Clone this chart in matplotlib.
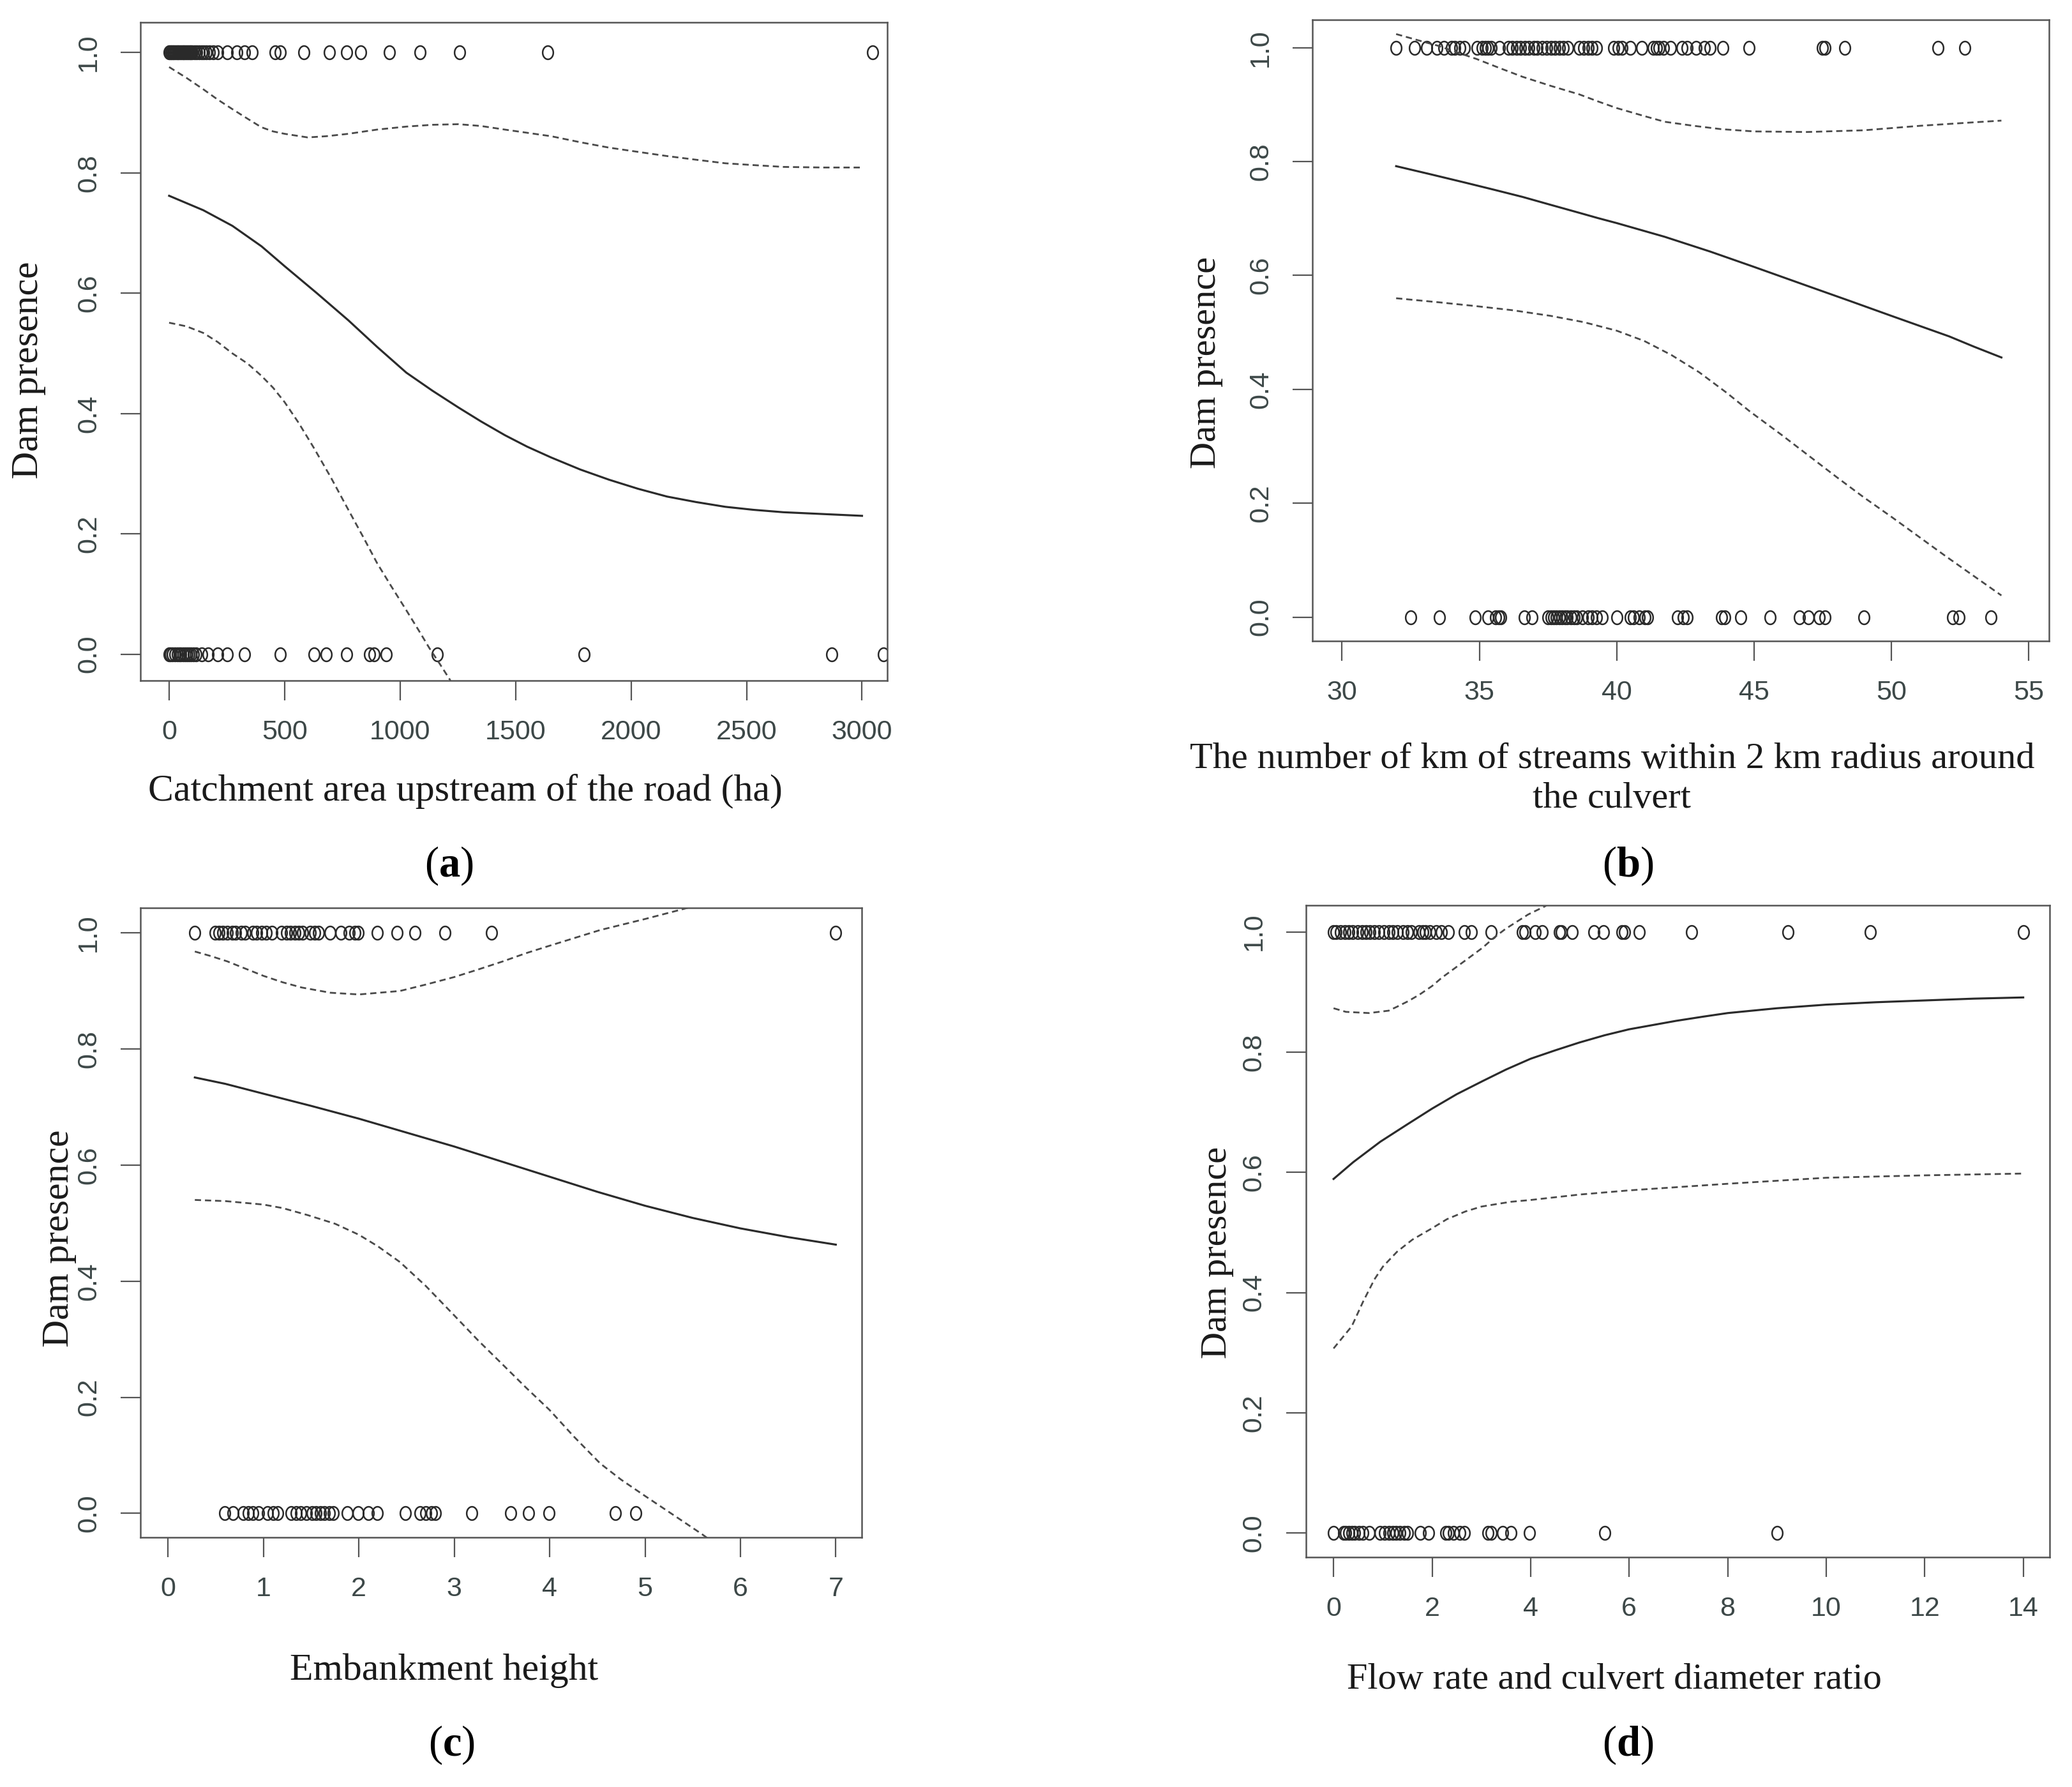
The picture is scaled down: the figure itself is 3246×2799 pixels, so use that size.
import matplotlib
matplotlib.use("Agg")
import matplotlib.pyplot as plt
from matplotlib.path import Path
import numpy as np

# ---- (a) catchment area upstream of the road (ha) ----
a_dam = [0, 4, 8, 12, 16, 20, 25, 30, 35, 40, 45, 50, 55, 60, 65, 70, 75, 80, 85, 90,
         95, 100, 110, 120, 130, 140, 150, 160, 175, 190, 210, 251, 293, 325, 360,
         460, 480, 582, 694, 769, 830, 953, 1087, 1258, 1640, 3045]
a_nodam = [0, 5, 15, 25, 35, 43, 50, 60, 70, 78, 85, 95, 105, 116, 140, 168, 210, 251,
           325, 481, 627, 680, 769, 868, 888, 941, 1160, 1797, 2868, 3092]
a_fit_x = [0, 148, 274, 400, 500, 640, 776, 900, 1027, 1140, 1253, 1350, 1454, 1550, 1654, 1780,
           1905, 2030, 2156, 2280, 2408, 2530, 2659, 2830, 3000]
a_fit_y = [0.762, 0.738, 0.712, 0.678, 0.645, 0.600, 0.555, 0.511, 0.468, 0.438, 0.410, 0.387,
           0.364, 0.345, 0.327, 0.307, 0.290, 0.275, 0.262, 0.253, 0.245, 0.240, 0.236, 0.233, 0.230]
a_up_x = [0, 75, 148, 210, 274, 340, 399, 450, 500, 600, 680, 776, 900, 1027, 1140, 1253,
          1350, 1454, 1654, 1780, 1905, 2030, 2156, 2280, 2408, 2530, 2659, 2830, 3000]
a_up_y = [0.976, 0.958, 0.939, 0.922, 0.906, 0.890, 0.876, 0.869, 0.865, 0.859, 0.861, 0.865,
          0.872, 0.877, 0.880, 0.881, 0.878, 0.872, 0.861, 0.851, 0.842, 0.835, 0.828, 0.822,
          0.816, 0.813, 0.810, 0.809, 0.809]
a_lo_x = [0, 75, 148, 210, 274, 340, 399, 450, 500, 560, 625, 700, 776, 840, 901, 960, 1027,
          1080, 1127, 1170, 1215, 1260]
a_lo_y = [0.551, 0.545, 0.534, 0.519, 0.500, 0.483, 0.463, 0.443, 0.419, 0.385, 0.344, 0.294,
          0.240, 0.195, 0.151, 0.114, 0.073, 0.040, 0.010, -0.015, -0.042, -0.075]

# ---- (b) km of streams within 2 km radius ----
b_dam = [31.97, 32.63, 33.09, 33.46, 33.71, 33.98, 34.1, 34.29, 34.45, 34.91, 35.1, 35.22,
         35.3, 35.43, 35.74, 36.05, 36.2, 36.36, 36.5, 36.67, 36.8, 36.98, 37.1, 37.29,
         37.45, 37.60, 37.75, 37.91, 38.05, 38.22, 38.64, 38.8, 38.95, 39.1, 39.26, 39.88,
         40.05, 40.19, 40.50, 40.92, 41.33, 41.45, 41.54, 41.7, 41.95, 42.37, 42.57, 42.88,
         43.19, 43.40, 43.86, 44.81, 47.48, 47.58, 48.31, 51.69, 52.66]
b_nodam = [32.51, 33.54, 34.85, 35.32, 35.59, 35.7, 35.78, 36.63, 36.92, 37.50, 37.6, 37.71,
           37.8, 37.91, 38.0, 38.12, 38.2, 38.33, 38.45, 38.53, 38.74, 38.95, 39.1, 39.26,
           39.47, 40.00, 40.50, 40.60, 40.81, 41.02, 41.12, 42.22, 42.43, 42.57, 43.81, 43.92,
           44.50, 45.58, 46.65, 46.98, 47.38, 47.58, 48.99, 52.22, 52.45, 53.63]
b_fit_x = [31.97, 33.2, 34.49, 35.5, 36.57, 37.6, 38.64, 39.3, 40.0, 41.74, 43.4, 45.0, 46.92,
           48.5, 50.0, 52.1, 53.0, 54.0]
b_fit_y = [0.792, 0.778, 0.763, 0.751, 0.738, 0.724, 0.710, 0.701, 0.692, 0.668, 0.642, 0.615,
           0.582, 0.555, 0.529, 0.493, 0.475, 0.456]
b_up_x = [31.97, 33.0, 33.46, 34.91, 35.7, 36.57, 37.6, 38.64, 39.3, 40.0, 41.0, 41.74, 42.78,
          43.8, 45.0, 46.92, 48.99, 51.07, 53.0, 54.0]
b_up_y = [1.024, 1.010, 1.004, 0.980, 0.965, 0.949, 0.933, 0.918, 0.906, 0.894, 0.880, 0.870,
          0.863, 0.857, 0.853, 0.852, 0.855, 0.863, 0.869, 0.872]
b_lo_x = [31.97, 33.5, 34.91, 36.2, 37.6, 38.8, 40.0, 41.0, 42.0, 43.0, 44.0, 44.85, 46.0, 47.0,
          48.0, 49.0, 50.0, 51.0, 52.0, 53.0, 54.0]
b_lo_y = [0.560, 0.553, 0.546, 0.539, 0.529, 0.518, 0.503, 0.485, 0.460, 0.430, 0.394, 0.361,
          0.320, 0.283, 0.246, 0.210, 0.176, 0.141, 0.106, 0.072, 0.038]

# ---- (c) embankment height ----
c_dam = [0.28, 0.49, 0.53, 0.57, 0.62, 0.67, 0.71, 0.77, 0.81, 0.89, 0.93, 0.98, 1.03, 1.09,
         1.19, 1.24, 1.28, 1.33, 1.37, 1.41, 1.49, 1.535, 1.58, 1.70, 1.81, 1.90, 1.96, 1.99,
         2.19, 2.40, 2.59, 2.90, 3.39, 7.00]
c_nodam = [0.59, 0.68, 0.79, 0.84, 0.89, 0.95, 1.04, 1.10, 1.15, 1.29, 1.34, 1.39, 1.45, 1.51,
           1.55, 1.60, 1.64, 1.69, 1.73, 1.88, 1.99, 2.10, 2.19, 2.49, 2.64, 2.70, 2.76, 2.80,
           3.18, 3.59, 3.78, 3.99, 4.69, 4.90]
c_fit_x = [0.28, 0.6, 1, 1.5, 2, 2.5, 3, 3.5, 4, 4.5, 5, 5.5, 6, 6.5, 7]
c_fit_y = [0.751, 0.740, 0.723, 0.702, 0.680, 0.656, 0.632, 0.606, 0.580, 0.554, 0.530, 0.509,
           0.491, 0.476, 0.463]
c_up_x = [0.28, 0.45, 0.62, 1.0, 1.2, 1.4, 1.7, 2.0, 2.43, 2.7, 3.0, 3.25, 3.51, 3.75, 4.0, 4.53,
          5.0, 5.35, 5.6]
c_up_y = [0.968, 0.960, 0.951, 0.926, 0.915, 0.906, 0.897, 0.894, 0.900, 0.911, 0.924, 0.937,
          0.951, 0.965, 0.978, 1.005, 1.024, 1.039, 1.05]
c_lo_x = [0.28, 0.6, 1.0, 1.2, 1.46, 1.75, 2.0, 2.2, 2.43, 2.7, 3.0, 3.25, 3.51, 3.75, 4.0, 4.25,
          4.53, 4.75, 5.0, 5.3, 5.59, 5.7]
c_lo_y = [0.540, 0.538, 0.532, 0.526, 0.514, 0.499, 0.480, 0.460, 0.433, 0.392, 0.341, 0.298,
          0.256, 0.217, 0.178, 0.133, 0.086, 0.058, 0.030, -0.003, -0.035, -0.048]

# ---- (d) flow rate / culvert diameter ratio ----
d_dam = [0.0, 0.05, 0.14, 0.23, 0.31, 0.39, 0.49, 0.58, 0.66, 0.74, 0.83, 0.92, 1.02, 1.12,
         1.20, 1.29, 1.41, 1.50, 1.58, 1.73, 1.81, 1.87, 1.96, 2.08, 2.19, 2.33, 2.66, 2.80,
         3.20, 3.83, 3.89, 4.09, 4.24, 4.59, 4.62, 4.85, 5.28, 5.48, 5.86, 5.91, 6.20, 7.27,
         9.23, 10.89, 14.01]
d_nodam = [0.0, 0.20, 0.25, 0.31, 0.37, 0.43, 0.51, 0.60, 0.72, 0.95, 1.04, 1.12, 1.20, 1.27,
           1.35, 1.43, 1.50, 1.76, 1.93, 2.28, 2.33, 2.43, 2.56, 2.66, 3.14, 3.20, 3.43, 3.60,
           3.97, 5.51, 9.0]
d_fit_x = [0, 0.4, 0.95, 1.5, 2, 2.5, 3.03, 3.5, 4, 4.5, 4.99, 5.5, 6, 6.95, 7.5, 8, 9, 10, 11,
           12, 13, 14]
d_fit_y = [0.589, 0.617, 0.651, 0.680, 0.706, 0.730, 0.752, 0.771, 0.789, 0.803, 0.816, 0.828,
           0.838, 0.852, 0.859, 0.865, 0.873, 0.879, 0.883, 0.886, 0.889, 0.891]
d_up_x = [0, 0.25, 0.72, 1.12, 1.3, 1.52, 1.75, 2.0, 2.2, 2.45, 2.7, 3.03, 3.25, 3.49, 3.95, 4.3,
          4.45]
d_up_y = [0.873, 0.867, 0.865, 0.869, 0.876, 0.885, 0.896, 0.910, 0.924, 0.939, 0.954, 0.974,
          0.990, 1.005, 1.029, 1.043, 1.055]
d_lo_x = [0, 0.15, 0.37, 0.6, 0.83, 1.0, 1.29, 1.6, 2.0, 2.3, 2.68, 3.0, 3.37, 3.6, 4, 4.99, 6,
          8, 10, 12, 14]
d_lo_y = [0.307, 0.322, 0.344, 0.385, 0.422, 0.443, 0.468, 0.488, 0.507, 0.522, 0.535, 0.543,
          0.548, 0.551, 0.554, 0.563, 0.570, 0.581, 0.591, 0.595, 0.598]

xlabels = ["Catchment area upstream of the road (ha)",
           "The number of km of streams within 2 km radius around\nthe culvert",
           "Embankment height",
           "Flow rate and culvert diameter ratio"]
panel_tags = ["a", "b", "c", "d"]

serif = ["Liberation Serif", "DejaVu Serif"]
narrow = ["Liberation Sans Narrow", "Liberation Sans", "DejaVu Sans"]

plt.rcParams["mathtext.fontset"] = "custom"
plt.rcParams["mathtext.rm"] = "Liberation Serif"
plt.rcParams["mathtext.bf"] = "Liberation Serif:bold"

# slightly tall open circle like the scanned R output
t = np.linspace(0, 2 * np.pi, 60)
oval = Path(np.column_stack([0.8 * np.cos(t), np.sin(t)]), closed=True)

fig = plt.figure(figsize=(32.46, 27.99), dpi=100)

panels = [
    dict(rect=[0.0678, 0.6191, 0.3605, 0.3683], xlim=(-124, 3110), ylim=(-0.044, 1.05),
         xticks=[0, 500, 1000, 1500, 2000, 2500, 3000],
         dam=a_dam, nodam=a_nodam, fit=(a_fit_x, a_fit_y), up=(a_up_x, a_up_y), lo=(a_lo_x, a_lo_y),
         xl=(0.2245, 0.557), yl=(0.014, 0.793), tag=(0.2168, 0.5155), fs=43),
    dict(rect=[0.6335, 0.6413, 0.3555, 0.3476], xlim=(28.93, 55.74), ylim=(-0.042, 1.049),
         xticks=[30, 35, 40, 45, 50, 55],
         dam=b_dam, nodam=b_nodam, fit=(b_fit_x, b_fit_y), up=(b_up_x, b_up_y), lo=(b_lo_x, b_lo_y),
         xl=(0.778, 0.564), yl=(0.5823, 0.797), tag=(0.7857, 0.5155), fs=42),
    dict(rect=[0.0678, 0.1398, 0.3480, 0.3521], xlim=(-0.29, 7.27), ylim=(-0.041, 1.043),
         xticks=[0, 1, 2, 3, 4, 5, 6, 7],
         dam=c_dam, nodam=c_nodam, fit=(c_fit_x, c_fit_y), up=(c_up_x, c_up_y), lo=(c_lo_x, c_lo_y),
         xl=(0.2143, 0.065), yl=(0.0287, 0.307), tag=(0.218, 0.0237), fs=43),
    dict(rect=[0.6303, 0.1287, 0.3590, 0.3646], xlim=(-0.56, 14.54), ylim=(-0.04, 1.044),
         xticks=[0, 2, 4, 6, 8, 10, 12, 14],
         dam=d_dam, nodam=d_nodam, fit=(d_fit_x, d_fit_y), up=(d_up_x, d_up_y), lo=(d_lo_x, d_lo_y),
         xl=(0.779, 0.060), yl=(0.5874, 0.299), tag=(0.7857, 0.0237), fs=42),
]

yticks = [0.0, 0.2, 0.4, 0.6, 0.8, 1.0]

for i, p in enumerate(panels):
    ax = fig.add_axes(p["rect"])
    ax.plot(p["dam"], np.ones(len(p["dam"])), linestyle="none", marker=oval, ms=15,
            mfc="none", mec="#2a2a2a", mew=1.8)
    ax.plot(p["nodam"], np.zeros(len(p["nodam"])), linestyle="none", marker=oval, ms=15,
            mfc="none", mec="#2a2a2a", mew=1.8)
    ax.plot(*p["fit"], color="#2b2b2b", lw=2.3)
    ax.plot(*p["up"], color="#4a4a4a", lw=2.0, linestyle=(0, (3.5, 2.2)))
    ax.plot(*p["lo"], color="#4a4a4a", lw=2.0, linestyle=(0, (3.5, 2.2)))

    ax.set_xlim(p["xlim"])
    ax.set_ylim(p["ylim"])
    ax.set_xticks(p["xticks"])
    ax.set_xticklabels([str(v) for v in p["xticks"]], family=narrow)
    ax.set_yticks(yticks)
    ax.set_yticklabels([f"{v:.1f}" for v in yticks], rotation=90, va="center", family=narrow)
    ax.tick_params(length=22, width=1.6, color="#555555", labelsize=31,
                   labelcolor="#3d4848", pad=22)
    for s in ax.spines.values():
        s.set_color("#555555")
        s.set_linewidth(1.8)

    fig.text(*p["xl"], xlabels[i], ha="center", va="center", fontsize=p["fs"], family=serif,
             color="#1a1a1a", linespacing=1.25)
    fig.text(*p["yl"], "Dam presence", ha="center", va="center", rotation=90, fontsize=p["fs"],
             family=serif, color="#1a1a1a")
    fig.text(*p["tag"], r"$\mathrm{(}\mathbf{" + panel_tags[i] + r"}\mathrm{)}$",
             ha="center", va="center", fontsize=48, color="black")

fig.savefig("out.png", dpi=100, facecolor="white")
